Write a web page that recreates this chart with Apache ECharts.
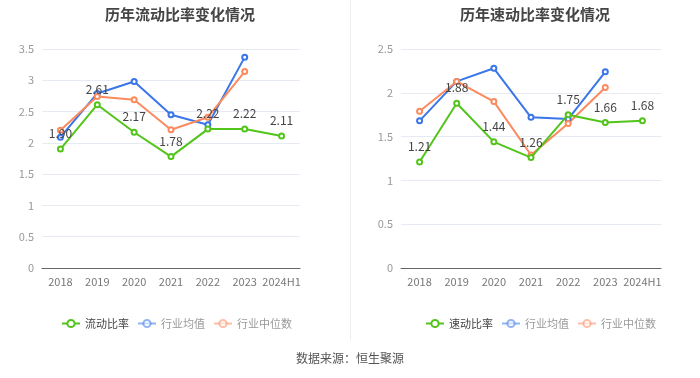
<!DOCTYPE html>
<html><head><meta charset="utf-8">
<script src="https://cdn.jsdelivr.net/npm/echarts@6/dist/echarts.min.js"></script>
<style>html,body{margin:0;padding:0;background:#fff}#c{width:700px;height:378px}</style>
</head><body><div id="c"></div>
<script>
const categories = ['2018','2019','2020','2021','2022','2023','2024H1'];
const currentRatio = [1.90, 2.61, 2.17, 1.78, 2.22, 2.22, 2.11];
const currentIndMean = [2.09, 2.79, 2.98, 2.45, 2.29, 3.37, null];
const currentIndMedian = [2.20, 2.74, 2.69, 2.21, 2.41, 3.14, null];
const quickRatio = [1.21, 1.88, 1.44, 1.26, 1.75, 1.66, 1.68];
const quickIndMean = [1.68, 2.13, 2.28, 1.72, 1.70, 2.24, null];
const quickIndMedian = [1.79, 2.13, 1.90, 1.29, 1.65, 2.06, null];
const leftTicks = {min:0, max:3.5, interval:0.5};
const rightTicks = {min:0, max:2.5, interval:0.5};

const GREEN = '#52c41a', BLUE = '#3b76e8', ORANGE = '#fb8a5e';
const font = '"Noto Sans CJK SC", "Noto Sans", sans-serif';
const chart = echarts.init(document.getElementById('c'), null, {renderer:'canvas'});

function xAxis(i){
  return {type:'category', gridIndex:i, data:categories, boundaryGap:true,
    axisLine:{lineStyle:{color:'#666'}}, axisTick:{alignWithLabel:true, lineStyle:{color:'#666'}},
    axisLabel:{color:'#777', fontSize:11, fontFamily:font, margin:8, interval:0}};
}
function yAxis(i, t){
  return {type:'value', gridIndex:i, min:t.min, max:t.max, interval:t.interval,
    axisLine:{show:false}, axisTick:{show:false},
    axisLabel:{color:'#999', fontSize:11, fontFamily:font, margin:8},
    splitLine:{lineStyle:{color:'#e6eaf2'}}};
}
function line(name, data, color, idx, labels){
  return {name, type:'line', data, xAxisIndex:idx, yAxisIndex:idx,
    symbol:'emptyCircle', symbolSize:5, connectNulls:false,
    lineStyle:{color, width:2}, itemStyle:{color, borderWidth:2},
    label: labels ? {show:true, position:'top', color:'#444', fontSize:12, fontFamily:font, distance:6,
      formatter: p => p.value.toFixed(2)} : {show:false},
    z: labels ? 3 : 2};
}
function faded(name){
  return {name, textStyle:{color:'#999'}, itemStyle:{opacity:0.55}, lineStyle:{opacity:0.55}};
}
const legendBase = {top:313, itemWidth:18, itemHeight:9, itemGap:8,
  textStyle:{fontSize:11, color:'#444', fontFamily:font}};
chart.setOption({
  animation:false,
  title:[
    {text:'历年流动比率变化情况', left:175, top:2, textAlign:'center',
      textStyle:{fontSize:15, fontWeight:'bold', color:'#444', fontFamily:font}},
    {text:'历年速动比率变化情况', left:530, top:2, textAlign:'center',
      textStyle:{fontSize:15, fontWeight:'bold', color:'#444', fontFamily:font}}
  ],
  grid:[
    {left:42, top:49, width:258, height:219},
    {left:401, top:49, width:260, height:219}
  ],
  xAxis:[xAxis(0), xAxis(1)],
  yAxis:[yAxis(0,leftTicks), yAxis(1,rightTicks)],
  legend:[
    Object.assign({left:56, data:['流动比率', faded('行业均值'), faded('行业中位数')]}, legendBase),
    Object.assign({left:420, data:['速动比率', faded('行业均值'), faded('行业中位数')]}, legendBase)
  ],
  graphic:[
    {type:'line', shape:{x1:350.5, y1:0, x2:350.5, y2:340}, style:{stroke:'#eeeeee', lineWidth:1}},
    {type:'text', left:'center', top:352, style:{text:'数据来源：恒生聚源', fill:'#555', fontSize:12, fontFamily:font}}
  ],
  series:[
    line('行业均值', currentIndMean, BLUE, 0, false),
    line('行业中位数', currentIndMedian, ORANGE, 0, false),
    line('流动比率', currentRatio, GREEN, 0, true),
    line('行业均值', quickIndMean, BLUE, 1, false),
    line('行业中位数', quickIndMedian, ORANGE, 1, false),
    line('速动比率', quickRatio, GREEN, 1, true)
  ]
});
</script></body></html>
